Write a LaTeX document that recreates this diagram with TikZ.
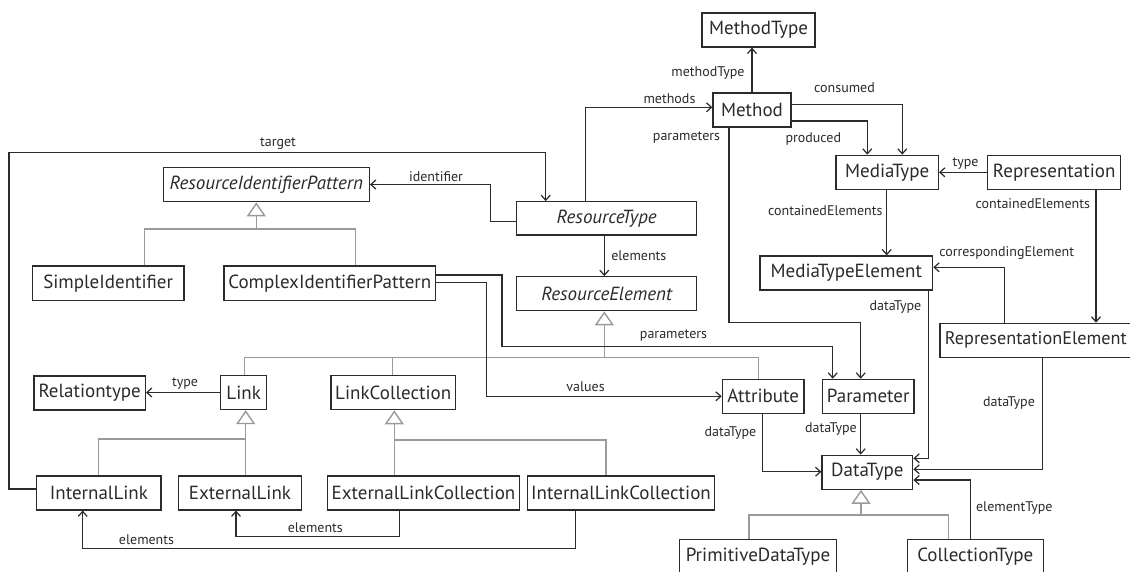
\documentclass[tikz,border=0pt]{standalone}
\usepackage{fontspec}
\setmainfont{PT Sans}
\usetikzlibrary{arrows.meta}
\definecolor{ink}{HTML}{2B2B2B}
\definecolor{genc}{HTML}{9A9A9A}
\begin{document}
\begin{tikzpicture}[x=1pt,y=-1pt,
  cls/.style={draw=ink, line width=1.3pt, text=ink, inner sep=0pt, minimum height=34pt,
    font=\fontsize{19}{22}\selectfont},
  abs/.style={cls, font=\fontsize{19}{22}\selectfont\itshape},
  assoc/.style={draw=ink, line width=1.2pt, -{Straight Barb[length=5pt,width=9pt]}},
  gen/.style={draw=genc, line width=1.4pt},
  genhead/.style={gen, -{Triangle[length=14pt,width=19pt,fill=white]}},
  lbl/.style={text=ink, font=\fontsize{14}{16}\selectfont, inner sep=0pt},
]
\fill[white] (0,0) rectangle (1130,571);
\useasboundingbox (0,0) rectangle (1130,571);

% classes
\node[cls, minimum width=113pt] (mtype) at (758.5,30) {MethodType};
\node[cls, minimum width=78pt] (method) at (752,110) {Method};
\node[abs, minimum width=206pt, minimum height=34.4pt] (rip) at (266.3,184.5) {ResourceIdentifierPattern};
\node[abs, minimum width=180pt, minimum height=33.3pt] (rtype) at (606.7,218.4) {ResourceType};
\node[abs, minimum width=180pt] (relem) at (606.7,293.7) {ResourceElement};
\node[cls, minimum width=151.7pt, minimum height=34.7pt] (simple) at (108.2,283.4) {SimpleIdentifier};
\node[cls, minimum width=211.7pt, minimum height=34.7pt] (complex) at (329.8,283.4) {ComplexIdentifierPattern};
\node[cls, minimum width=102.3pt] (mediatype) at (887.2,172.3) {MediaType};
\node[cls, minimum width=133pt] (repr) at (1054.2,172.3) {Representation};
\node[cls, minimum width=172.7pt] (mte) at (846.3,273) {MediaTypeElement};
% this box runs past the right margin
\node[cls, anchor=west, inner xsep=5pt, text width=192pt, align=left,
  font=\fontsize{18.2}{22}\selectfont] (rel) at (939.3,340.3) {RepresentationElement};
\node[cls, minimum width=111.3pt] (reltype) at (89.7,392.9) {Relationtype};
\node[cls, minimum width=46pt] (link) at (243.7,392.5) {Link};
\node[cls, line width=1.7pt, minimum width=124.3pt] (lcoll) at (393.2,392.5) {LinkCollection};
\node[cls, minimum width=81.7pt] (attr) at (763.2,396.3) {Attribute};
\node[cls, minimum width=91.7pt] (param) at (868.2,396.3) {Parameter};
\node[cls, minimum width=124.3pt] (ilink) at (98.9,492.9) {InternalLink};
\node[cls, minimum width=123.4pt] (elink) at (240,492.9) {ExternalLink};
\node[cls, minimum width=191.6pt] (elc) at (423.5,492.9) {ExternalLinkCollection};
\node[cls, minimum width=186.6pt] (ilc) at (621,492.9) {InternalLinkCollection};
\node[cls, minimum width=90.7pt] (dtype) at (867.4,472.2) {DataType};
\node[cls, minimum width=157.4pt] (prim) at (758,556.3) {PrimitiveDataType};
\node[cls, minimum width=136pt] (coll) at (975.3,556.3) {CollectionType};

% generalisation buses
\coordinate (g1) at (256.3,229); \coordinate (g1a) at (144.3,229); \coordinate (g1b) at (355.7,229);
\draw[gen] (simple.north -| g1a) -- (g1a) -- (g1b) -- (complex.north -| g1b);
\draw[genhead] (g1) -- (g1 |- rip.south);

\coordinate (g2) at (604.3,357.7); \coordinate (g2a) at (244.3,357.7);
\coordinate (g2b) at (392.7,357.7); \coordinate (g2c) at (758.3,357.7);
\draw[gen] (link.north -| g2a) -- (g2a) -- (g2c) -- (attr.north -| g2c);
\draw[gen] (g2b) -- (lcoll.north -| g2b);
\draw[genhead] (g2) -- (g2 |- relem.south);

\coordinate (g3) at (245.7,439); \coordinate (g3a) at (98.7,439);
\draw[gen] (ilink.north -| g3a) -- (g3a) -- (g3);
\draw[gen] (elink.north -| g3) -- (g3);
\draw[genhead] (g3) -- (g3 |- link.south);

\coordinate (g4) at (394.3,440); \coordinate (g4a) at (606,440);
\draw[gen] (ilc.north -| g4a) -- (g4a) -- (g4);
\draw[gen] (elc.north -| g4) -- (g4);
\draw[genhead] (g4) -- (g4 |- lcoll.south);

\coordinate (g5) at (861,515); \coordinate (g5a) at (749,515); \coordinate (g5b) at (948.3,515);
\draw[gen] (prim.north -| g5a) -- (g5a) -- (g5b) -- (coll.north -| g5b);
\draw[genhead] (g5) -- (g5 |- dtype.south);

% associations
\draw[assoc] (method.north) -- (method.north |- mtype.south)
  node[lbl] at (708,72.7) {methodType};

\coordinate (mp) at (585.7,107.3);
\draw[assoc] (rtype.north -| mp) -- (mp) -- (method.west |- mp)
  node[lbl] at (669.5,99) {methods};

\coordinate (mc) at (902.3,104.3);
\draw[assoc] (method.east |- mc) -- (mc) -- (mc |- mediatype.north)
  node[lbl] at (844.5,87.7) {consumed};

\coordinate (mpr) at (867.3,121);
\draw[assoc] (method.east |- mpr) -- (mpr) -- (mpr |- mediatype.north)
  node[lbl] at (813.3,139.3) {produced};

\draw[assoc] (repr.west) -- (mediatype.east)
  node[lbl] at (965.5,164) {type};

\coordinate (mce) at (886.7,0);
\draw[assoc] (mediatype.south -| mce) -- (mte.north -| mce)
  node[lbl] at (825.3,210.7) {containedElements};

\coordinate (rce) at (1096,0);
\draw[assoc] (repr.south -| rce) -- (rel.north -| rce)
  node[lbl] at (1032.8,204) {containedElements};

\coordinate (rco) at (1004.3,267.3);
\draw[assoc] (rel.north -| rco) -- (rco) -- (mte.east |- rco)
  node[lbl] at (1006.7,252.7) {correspondingElement};

\coordinate (mdt) at (928.3,458.3);
\draw[assoc] (mte.south -| mdt) -- (mdt) -- (dtype.east |- mdt)
  node[lbl] at (895.5,306.7) {dataType};

\coordinate (rdt) at (1042.5,469.3);
\draw[assoc] (rel.south -| rdt) -- (rdt) -- (dtype.east |- rdt)
  node[lbl] at (1009,402.7) {dataType};

\coordinate (cet) at (970.7,480);
\draw[assoc] (coll.north -| cet) -- (cet) -- (dtype.east |- cet)
  node[lbl] at (1014.3,507.7) {elementType};

\coordinate (mpa) at (729,322.3); \coordinate (mpb) at (860.7,322.3);
\draw[assoc] (method.south -| mpa) -- (mpa) -- (mpb) -- (param.north -| mpb)
  node[lbl] at (686.5,138) {parameters};

\coordinate (cpa) at (502,275); \coordinate (cpb) at (502,346.7); \coordinate (cpc) at (832.7,346.7);
\draw[assoc] (complex.east |- cpa) -- (cpa) -- (cpb) -- (cpc) -- (param.north -| cpc)
  node[lbl] at (673.5,335.7) {parameters};

\coordinate (cva) at (486.7,282.7); \coordinate (cvb) at (486.7,396.3);
\draw[assoc] (complex.east |- cva) -- (cva) -- (cvb) -- (attr.west |- cvb)
  node[lbl] at (585.5,387) {values};

\coordinate (rel1) at (604.3,0);
\draw[assoc] (rtype.south -| rel1) -- (relem.north -| rel1)
  node[lbl] at (638.8,255.7) {elements};

\coordinate (ida) at (490.7,221.7); \coordinate (idb) at (490.7,184.5);
\draw[assoc] (rtype.west |- ida) -- (ida) -- (idb) -- (rip.east |- idb)
  node[lbl] at (436,176.7) {identifier};

\coordinate (tga) at (9,489); \coordinate (tgb) at (9,152.5); \coordinate (tgc) at (545.7,152.5);
\draw[assoc] (ilink.west |- tga) -- (tga) -- (tgb) -- (tgc) -- (rtype.north -| tgc)
  node[lbl] at (278,143.5) {target};

\draw[assoc] (link.west) -- (reltype.east |- link.west)
  node[lbl] at (185,384) {type};

\coordinate (eea) at (399.3,536.7); \coordinate (eeb) at (236,536.7);
\draw[assoc] (elc.south -| eea) -- (eea) -- (eeb) -- (elink.south -| eeb)
  node[lbl] at (315.3,527.3) {elements};

\coordinate (iea) at (575.7,548.3); \coordinate (ieb) at (82.7,548.3);
\draw[assoc] (ilc.south -| iea) -- (iea) -- (ieb) -- (ilink.south -| ieb)
  node[lbl] at (146.5,539.3) {elements};

\coordinate (adt) at (762.7,471.7);
\draw[assoc] (attr.south -| adt) -- (adt) -- (dtype.west |- adt)
  node[lbl] at (730.5,433.3) {dataType};

\coordinate (pdt) at (860.7,0);
\draw[assoc] (param.south -| pdt) -- (dtype.north -| pdt)
  node[lbl] at (831,429) {dataType};
\end{tikzpicture}
\end{document}
